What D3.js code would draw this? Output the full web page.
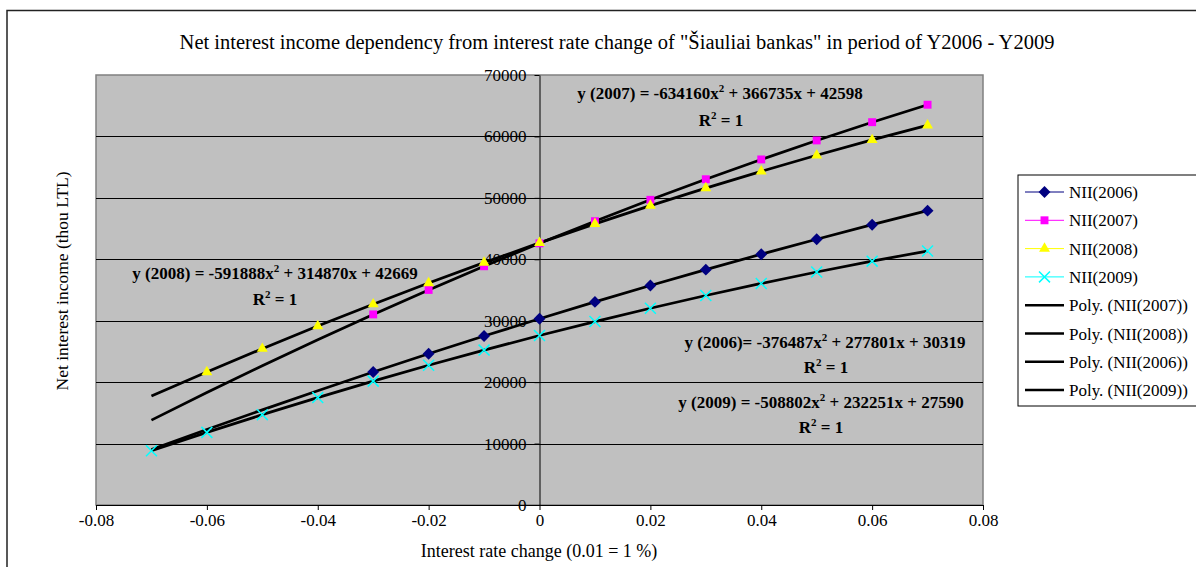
<!DOCTYPE html>
<html><head><meta charset="utf-8">
<script src="https://cdn.jsdelivr.net/npm/d3@7"></script>
<style>
body{margin:0;background:#fff;}
text{font-family:"Liberation Serif","Times New Roman",serif;fill:#000;}
</style></head>
<body><svg id="c" width="1196" height="567"></svg>
<script>
// ---- data ----
const xValues = [-0.07,-0.06,-0.05,-0.04,-0.03,-0.02,-0.01,0,0.01,0.02,0.03,0.04,0.05,0.06,0.07];
const nii2006 = [null,null,null,null,21646,24612,27503,30319,33059,35724,38314,40829,43268,45632,47920];
const nii2007 = [null,null,null,null,31025,35010,38867,42598,46202,49679,53029,56253,59349,62319,65162];
const nii2008 = [null,21646,25446,29127,32690,36135,39461,42669,45759,48730,51582,54317,56933,59430,61810];
const nii2009 = [8839,11823,14705,17486,20165,22742,25217,27590,29862,32032,34100,36066,37931,39693,41355];
// polynomial trend values (from the fitted equations shown on the chart)
const poly2006 = [9028,12296,15488,18605,21646,24612,27503,30319,33059,35724,38314,40829,43268,45632,47920];
const poly2007 = [13819,18311,22676,26914,31025,35010,38867,42598,46202,49679,53029,56253,59349,62319,65162];
const poly2008 = [17728,21646,25446,29127,32690,36135,39461,42669,45759,48730,51582,54317,56933,59430,61810];
const poly2009 = [8839,11823,14705,17486,20165,22742,25217,27590,29862,32032,34100,36066,37931,39693,41355];
const seriesNames = ["NII(2006)","NII(2007)","NII(2008)","NII(2009)"];
const polyNames = ["Poly. (NII(2007))","Poly. (NII(2008))","Poly. (NII(2006))","Poly. (NII(2009))"];
const xTicks = [-0.08,-0.06,-0.04,-0.02,0,0.02,0.04,0.06,0.08];
const xTickLabels = ["-0.08","-0.06","-0.04","-0.02","0","0.02","0.04","0.06","0.08"];
const yTicks = [0,10000,20000,30000,40000,50000,60000,70000];
const eqPre = ["y (2007) = -634160x","y (2008) = -591888x","y (2006)= -376487x","y (2009) = -508802x"];
const eqPost = [" + 366735x + 42598"," + 314870x + 42669"," + 277801x + 30319"," + 232251x + 27590"];
const titleText = 'Net interest income dependency from interest rate change of "Šiauliai bankas" in period of Y2006 - Y2009';
const xTitle = "Interest rate change (0.01 = 1 %)";
const yTitle = "Net interest income (thou LTL)";

// ---- layout ----
const FS = 17;
const svg = d3.select("#c");
const L = 96, R = 983, T = 75, B = 505;
const x = d3.scaleLinear().domain([-0.08,0.08]).range([L,R]);
const y = d3.scaleLinear().domain([0,70000]).range([B,T]);

// outer chart border
svg.append("path").attr("d","M7,567 V10.5 H1196").attr("fill","none").attr("stroke","#222").attr("stroke-width",1.5);

function stext(px,py,str,size,anchor,weight){
  return svg.append("text").attr("x",px).attr("y",py)
    .attr("text-anchor",anchor||"start").style("font-size",size+"px")
    .style("font-weight",weight||"normal").text(str);
}

// title
stext(617,49,titleText,20.5,"middle");

// plot area
svg.append("rect").attr("x",L).attr("y",T).attr("width",R-L).attr("height",B-T)
  .attr("fill","#c0c0c0").attr("stroke","#808080").attr("stroke-width",1.5);
// gridlines
svg.append("g").selectAll("line").data(yTicks.filter(v=>v>0&&v<70000)).join("line")
  .attr("x1",L).attr("x2",R).attr("y1",d=>Math.round(y(d))+0.5).attr("y2",d=>Math.round(y(d))+0.5)
  .attr("stroke","#000").attr("stroke-width",1);

// x axis
const gx = svg.append("g").attr("transform",`translate(0,${B})`)
  .call(d3.axisBottom(x).tickValues(xTicks).tickFormat((d,i)=>xTickLabels[i]).tickSizeInner(5).tickSizeOuter(0).tickPadding(4));
gx.select(".domain").attr("stroke","#000");
gx.selectAll("text").style("font-size",FS+"px").style("font-family","Liberation Serif");

// y axis at x = 0
const gy = svg.append("g").attr("transform",`translate(${x(0)},0)`)
  .call(d3.axisLeft(y).tickValues(yTicks).tickFormat(d3.format("d")).tickSizeInner(5).tickSizeOuter(0).tickPadding(8));
gy.select(".domain").attr("stroke","#000");
gy.selectAll("text").style("font-size",FS+"px").style("font-family","Liberation Serif");

// axis titles
stext(539,557,xTitle,18,"middle");
svg.append("text").attr("transform",`translate(68,281) rotate(-90)`)
  .attr("text-anchor","middle").style("font-size","17.5px").text(yTitle);

// series
const seriesData = [nii2006,nii2007,nii2008,nii2009];
const colors = ["#000080","#ff00ff","#ffff00","#00ffff"];
const symbols = [d3.symbolDiamond2,d3.symbolSquare2,d3.symbolTriangle2,d3.symbolX];
const symSize = [90,80,85,80];
const line = d3.line().defined(d=>d[1]!=null).x(d=>x(d[0])).y(d=>y(d[1]));
seriesData.forEach((s,i)=>{
  svg.append("path").datum(xValues.map((xv,j)=>[xv,s[j]])).attr("d",line)
    .attr("fill","none").attr("stroke",colors[i]).attr("stroke-width",1);
});
// trend lines
const polyData = [poly2007,poly2008,poly2006,poly2009];
const tline = d3.line().curve(d3.curveNatural).x(d=>x(d[0])).y(d=>y(d[1]));
polyData.forEach(p=>{
  svg.append("path").datum(xValues.map((xv,j)=>[xv,p[j]])).attr("d",tline)
    .attr("fill","none").attr("stroke","#000").attr("stroke-width",2.75);
});
// markers
function drawMarker(g,i,cx,cy){
  const sym = d3.symbol().type(symbols[i]).size(symSize[i]);
  const p = g.append("path").attr("d",sym()).attr("transform",`translate(${cx},${cy})`);
  if(i===3) p.attr("fill","none").attr("stroke",colors[i]).attr("stroke-width",1.5);
  else p.attr("fill",colors[i]).attr("stroke","none");
}
seriesData.forEach((s,i)=>{
  const g = svg.append("g");
  xValues.forEach((xv,j)=>{ if(s[j]!=null) drawMarker(g,i,x(xv),y(s[j])); });
});

// equations
const eqPos = [[720,99,721,126],[275,279,275,305],[825,348,826,373],[821,408,821,433]];
function eqText(px,py,pre,sup,post){
  const t = svg.append("text").attr("x",px).attr("y",py)
    .attr("text-anchor","middle").style("font-size",FS+"px").style("font-weight","bold");
  t.append("tspan").text(pre);
  t.append("tspan").attr("dy",-7).style("font-size","11px").text(sup);
  t.append("tspan").attr("dy",7).text(post);
}
eqPre.forEach((pre,i)=>{
  const p = eqPos[i];
  eqText(p[0],p[1],pre,"2",eqPost[i]);
  eqText(p[2],p[3],"R","2"," = 1");
});

// legend
const legX = 1018, legY = 175;
svg.append("rect").attr("x",legX).attr("y",legY).attr("width",200).attr("height",231)
  .attr("fill","#fff").attr("stroke","#000").attr("stroke-width",1);
const legItems = seriesNames.map((n,i)=>({n,i,poly:false})).concat(polyNames.map(n=>({n,poly:true})));
legItems.forEach((it,k)=>{
  const ly = 192 + k*28.3;
  const g = svg.append("g");
  g.append("line").attr("x1",1025).attr("x2",1064).attr("y1",ly).attr("y2",ly)
    .attr("stroke",it.poly?"#000":colors[it.i]).attr("stroke-width",it.poly?2.5:1);
  if(!it.poly) drawMarker(g,it.i,1044.5,ly);
  stext(1069,ly+6,it.n,FS,"start");
});
</script></body></html>
